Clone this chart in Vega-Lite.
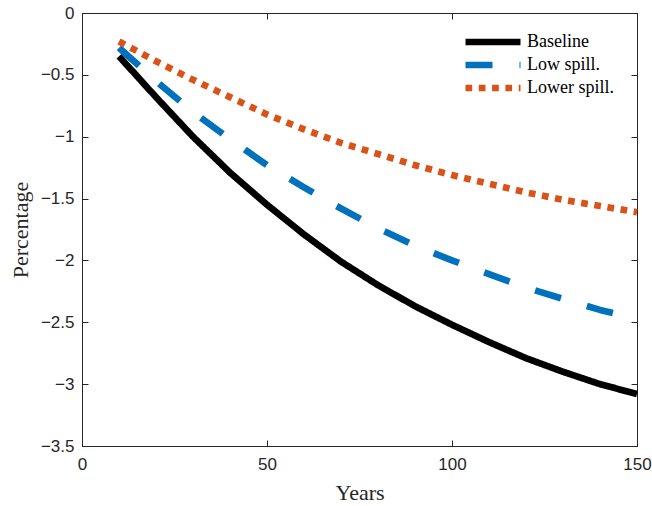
{
  "$schema": "https://vega.github.io/schema/vega-lite/v6.json",
  "width": 555,
  "height": 433,
  "autosize": {"type": "none"},
  "padding": {"left": 82, "top": 13, "right": 15, "bottom": 60},
  "background": "white",
  "config": {
    "view": {"stroke": "#262626", "strokeWidth": 1},
    "axis": {
      "grid": false,
      "domainColor": "#262626",
      "tickColor": "#262626",
      "tickSize": -6,
      "labelFlush": false,
      "labelFont": "Liberation Sans",
      "labelFontSize": 17,
      "labelColor": "#262626",
      "titleFont": "Liberation Serif",
      "titleFontSize": 22,
      "titleFontWeight": "normal",
      "titleColor": "#262626"
    },
    "legend": {"padding": 0}
  },
  "data": {"values": [
    {"year": 10, "series": "Baseline", "v": -0.35},
    {"year": 20, "series": "Baseline", "v": -0.68},
    {"year": 30, "series": "Baseline", "v": -1.0},
    {"year": 40, "series": "Baseline", "v": -1.29},
    {"year": 50, "series": "Baseline", "v": -1.55},
    {"year": 60, "series": "Baseline", "v": -1.79},
    {"year": 70, "series": "Baseline", "v": -2.01},
    {"year": 80, "series": "Baseline", "v": -2.2},
    {"year": 90, "series": "Baseline", "v": -2.37},
    {"year": 100, "series": "Baseline", "v": -2.52},
    {"year": 110, "series": "Baseline", "v": -2.66},
    {"year": 120, "series": "Baseline", "v": -2.79},
    {"year": 130, "series": "Baseline", "v": -2.9},
    {"year": 140, "series": "Baseline", "v": -3.0},
    {"year": 150, "series": "Baseline", "v": -3.08},
    {"year": 10, "series": "Low spill.", "v": -0.28},
    {"year": 20, "series": "Low spill.", "v": -0.55},
    {"year": 30, "series": "Low spill.", "v": -0.8},
    {"year": 40, "series": "Low spill.", "v": -1.02},
    {"year": 50, "series": "Low spill.", "v": -1.23},
    {"year": 60, "series": "Low spill.", "v": -1.41},
    {"year": 70, "series": "Low spill.", "v": -1.58},
    {"year": 80, "series": "Low spill.", "v": -1.74},
    {"year": 90, "series": "Low spill.", "v": -1.88},
    {"year": 100, "series": "Low spill.", "v": -2.0},
    {"year": 110, "series": "Low spill.", "v": -2.11},
    {"year": 120, "series": "Low spill.", "v": -2.22},
    {"year": 130, "series": "Low spill.", "v": -2.31},
    {"year": 140, "series": "Low spill.", "v": -2.4},
    {"year": 150, "series": "Low spill.", "v": -2.47},
    {"year": 10, "series": "Lower spill.", "v": -0.23},
    {"year": 20, "series": "Lower spill.", "v": -0.39},
    {"year": 30, "series": "Lower spill.", "v": -0.54},
    {"year": 40, "series": "Lower spill.", "v": -0.68},
    {"year": 50, "series": "Lower spill.", "v": -0.82},
    {"year": 60, "series": "Lower spill.", "v": -0.94},
    {"year": 70, "series": "Lower spill.", "v": -1.05},
    {"year": 80, "series": "Lower spill.", "v": -1.14},
    {"year": 90, "series": "Lower spill.", "v": -1.23},
    {"year": 100, "series": "Lower spill.", "v": -1.31},
    {"year": 110, "series": "Lower spill.", "v": -1.38},
    {"year": 120, "series": "Lower spill.", "v": -1.45},
    {"year": 130, "series": "Lower spill.", "v": -1.51},
    {"year": 140, "series": "Lower spill.", "v": -1.56},
    {"year": 150, "series": "Lower spill.", "v": -1.61}
  ]},
  "layer": [
    {
      "mark": {"type": "line", "strokeWidth": 6.7, "strokeCap": "butt", "strokeJoin": "round"},
      "encoding": {
        "x": {"field": "year", "type": "quantitative", "scale": {"domain": [0, 150], "nice": false},
              "axis": {"values": [0, 50, 100, 150], "title": "Years", "labelPadding": 16, "titlePadding": 10}},
        "y": {"field": "v", "type": "quantitative", "scale": {"domain": [-3.5, 0], "nice": false},
              "axis": {"values": [0, -0.5, -1, -1.5, -2, -2.5, -3, -3.5], "format": "~g", "title": "Percentage", "labelPadding": 14, "titlePadding": 8}},
        "color": {"field": "series", "type": "nominal",
                  "scale": {"domain": ["Baseline", "Low spill.", "Lower spill."], "range": ["#000000", "#0072BD", "#D95319"]},
                  "legend": {"title": null, "orient": "none", "legendX": 402, "legendY": 20,
                             "symbolType": "M-5,0H5", "symbolSize": 121, "symbolStrokeWidth": 6.5,
                             "labelFont": "Liberation Serif", "labelFontSize": 18, "labelColor": "#000000",
                             "rowPadding": -3, "labelOffset": 25}},
        "strokeDash": {"field": "series", "type": "nominal",
                       "scale": {"domain": ["Baseline", "Low spill.", "Lower spill."], "range": [[1, 0], [27, 27], [6.7, 6.6]]},
                       "legend": {"title": null, "orient": "none", "legendX": 402, "legendY": 20,
                             "symbolType": "M-5,0H5", "symbolSize": 121, "symbolStrokeWidth": 6.5,
                             "labelFont": "Liberation Serif", "labelFontSize": 18, "labelColor": "#000000",
                             "rowPadding": -3, "labelOffset": 25}}
      }
    },
    {
      "mark": {"type": "point", "opacity": 0},
      "encoding": {
        "x": {"field": "year", "type": "quantitative", "axis": {"orient": "top", "values": [0, 50, 100, 150], "labels": false, "title": null}},
        "y": {"field": "v", "type": "quantitative", "axis": {"orient": "right", "values": [0, -0.5, -1, -1.5, -2, -2.5, -3, -3.5], "labels": false, "title": null}}
      }
    }
  ],
  "resolve": {"axis": {"x": "independent", "y": "independent"}}
}
